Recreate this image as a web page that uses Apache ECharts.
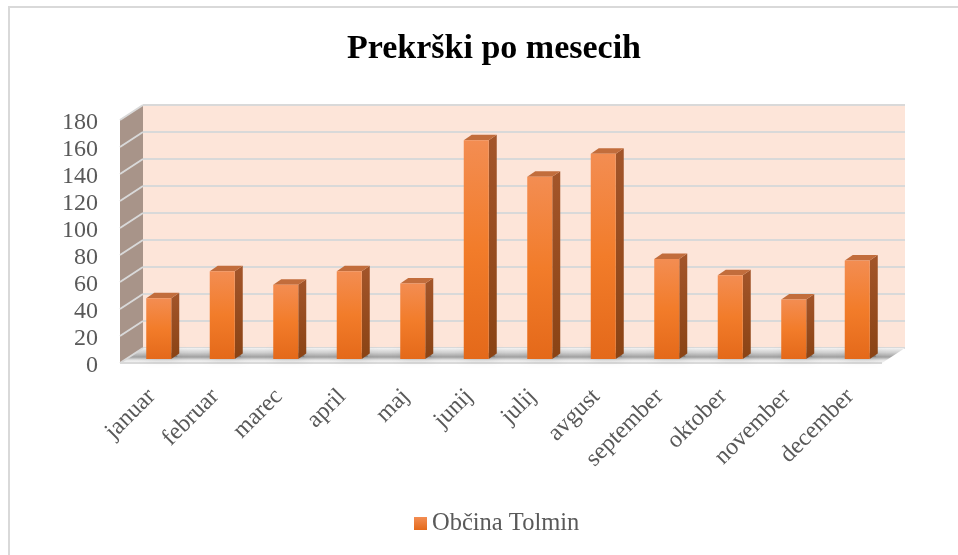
<!DOCTYPE html>
<html><head><meta charset="utf-8">
<script src="https://cdn.jsdelivr.net/npm/echarts@6/dist/echarts.min.js"></script>
<style>html,body{margin:0;padding:0;background:#fff}#c{width:958px;height:555px}</style>
</head><body><div id="c"></div>
<script>
const categories = ['januar','februar','marec','april','maj','junij','julij','avgust','september','oktober','november','december'];
const values = [45, 65, 55, 65, 56, 162, 135, 152, 74, 62, 44, 73];
const seriesName = 'Občina Tolmin';
const titleText = 'Prekrški po mesecih';
const yTicks = [0, 20, 40, 60, 80, 100, 120, 140, 160, 180];

const FONT = '"Liberation Serif", "DejaVu Serif", serif';
const chart = echarts.init(document.getElementById('c'), null, {renderer: 'canvas'});

// back wall plane geometry
const BACK = {left: 143, right: 905, top: 105, bottom: 348};
const DEPTH = {dx: -23, dy: 15};     // full floor depth (back -> front)
const BAR = {dx: -16, dy: 11, w: 25, sx: 8, sy: -5.5};

const frontGrad = new echarts.graphic.LinearGradient(0, 0, 0, 1, [
  {offset: 0, color: '#F38D52'}, {offset: 0.5, color: '#F27C2A'}, {offset: 1, color: '#E4691A'}
]);
const sideGrad = new echarts.graphic.LinearGradient(0, 0, 0, 1, [
  {offset: 0, color: '#A3552A'}, {offset: 1, color: '#8A4314'}
]);

function renderBar(params, api) {
  const idx = api.value(0);
  const v = api.value(1);
  const pTop = api.coord([idx, v]);
  const pBase = api.coord([idx, 0]);
  const cx = pTop[0] + BAR.dx;
  const x0 = cx - BAR.w / 2, x1 = cx + BAR.w / 2;
  const yT = pTop[1] + BAR.dy, yB = pBase[1] + BAR.dy;
  return {
    type: 'group',
    children: [
      {type: 'rect', shape: {x: x0 + 2, y: yB - 6, width: BAR.w + 4, height: 4},
        style: {fill: 'rgba(70,70,70,0.35)', shadowBlur: 10, shadowColor: 'rgba(0,0,0,0.75)', shadowOffsetX: 0}},
      {type: 'polygon', shape: {points: [[x1, yT], [x1 + BAR.sx, yT + BAR.sy], [x1 + BAR.sx, yB + BAR.sy], [x1, yB]]},
        style: {fill: sideGrad}},
      {type: 'polygon', shape: {points: [[x0, yT], [x0 + BAR.sx, yT + BAR.sy], [x1 + BAR.sx, yT + BAR.sy], [x1, yT]]},
        style: {fill: '#C26D3C'}},
      {type: 'rect', shape: {x: x0, y: yT, width: BAR.w, height: yB - yT},
        style: {fill: frontGrad}}
    ]
  };
}

const gridW = BACK.right - BACK.left, gridH = BACK.bottom - BACK.top;

chart.setOption({
  animation: false,
  backgroundColor: '#ffffff',
  title: {
    text: titleText, left: 489, textAlign: 'center', top: 27,
    textStyle: {fontFamily: FONT, fontWeight: 'bold', fontSize: 34, color: '#000000'}
  },
  legend: {
    bottom: 14, left: 409,
    icon: 'rect', itemWidth: 13, itemHeight: 13, itemGap: 6,
    textStyle: {fontFamily: FONT, fontSize: 24.5, color: '#595959'},
    data: [seriesName]
  },
  grid: [
    {left: BACK.left, top: BACK.top, width: gridW, height: gridH, show: true,
      backgroundColor: '#FDE5D9', borderWidth: 0, containLabel: false},
    {left: BACK.left + DEPTH.dx, top: BACK.top + DEPTH.dy + 3, width: gridW, height: gridH, show: false, containLabel: false}
  ],
  xAxis: [
    {type: 'category', gridIndex: 0, data: categories, boundaryGap: true,
      axisLine: {show: false}, axisTick: {show: false}, axisLabel: {show: false}},
    {type: 'category', gridIndex: 1, data: categories, boundaryGap: true,
      axisLine: {show: false}, axisTick: {show: false},
      axisLabel: {rotate: 45, margin: 27, fontFamily: FONT, fontSize: 24, color: '#595959', interval: 0}}
  ],
  yAxis: [
    {type: 'value', gridIndex: 0, min: 0, max: 180, interval: 20,
      axisLine: {show: false}, axisTick: {show: false}, axisLabel: {show: false},
      splitLine: {show: true, lineStyle: {color: '#D9D9D9', width: 2}}},
    {type: 'value', gridIndex: 1, min: 0, max: 180, interval: 20,
      axisLine: {show: false}, axisTick: {show: false}, splitLine: {show: false},
      axisLabel: {margin: 22, fontFamily: FONT, fontSize: 24, color: '#595959'}}
  ],
  series: [
    {
      name: seriesName, type: 'custom', xAxisIndex: 0, yAxisIndex: 0,
      itemStyle: {color: new echarts.graphic.LinearGradient(0, 0, 0, 1, [
        {offset: 0, color: '#F38D52'}, {offset: 1, color: '#E4691A'}])},
      encode: {x: 0, y: 1},
      data: values.map((v, i) => [i, v]),
      renderItem: renderBar,
      z: 5
    }
  ]
});

// decorations: side wall, floor, border — positions derived from axis scale
const graphics = [];
graphics.push({type: 'polyline', shape: {points: [[9, 560], [9, 7], [960, 7]]},
  style: {stroke: '#D9D9D9', lineWidth: 2, fill: null}, z: 0});
const yTop = chart.convertToPixel({yAxisIndex: 0}, 180);
const yZero = chart.convertToPixel({yAxisIndex: 0}, 0);
const L = BACK.left, R = BACK.right;
graphics.push({type: 'polygon', z: 1,
  shape: {points: [[L, yTop], [L + DEPTH.dx, yTop + DEPTH.dy], [L + DEPTH.dx, yZero + DEPTH.dy], [L, yZero]]},
  style: {fill: '#A89489'}});
yTicks.forEach(t => {
  const y = chart.convertToPixel({yAxisIndex: 0}, t);
  graphics.push({type: 'line', z: 2, shape: {x1: L, y1: y, x2: L + DEPTH.dx, y2: y + DEPTH.dy},
    style: {stroke: '#D9D9D9', lineWidth: 2}});
});
graphics.push({type: 'polygon', z: 1,
  shape: {points: [[L, yZero], [R, yZero], [R + DEPTH.dx, yZero + DEPTH.dy], [L + DEPTH.dx, yZero + DEPTH.dy]]},
  style: {fill: new echarts.graphic.LinearGradient(0, 0, 0, 1, [
    {offset: 0, color: '#F2F2F2'}, {offset: 0.3, color: '#D0D0D0'}, {offset: 0.6, color: '#A0A0A0'}, {offset: 0.8, color: '#E6E6E6'}, {offset: 1, color: '#F5F5F5'}])}});
graphics.push({type: 'line', z: 2, shape: {x1: L + DEPTH.dx, y1: yZero + DEPTH.dy, x2: R + DEPTH.dx, y2: yZero + DEPTH.dy},
  style: {stroke: '#D9D9D9', lineWidth: 2}});
chart.setOption({graphic: graphics});
</script>
</body></html>
